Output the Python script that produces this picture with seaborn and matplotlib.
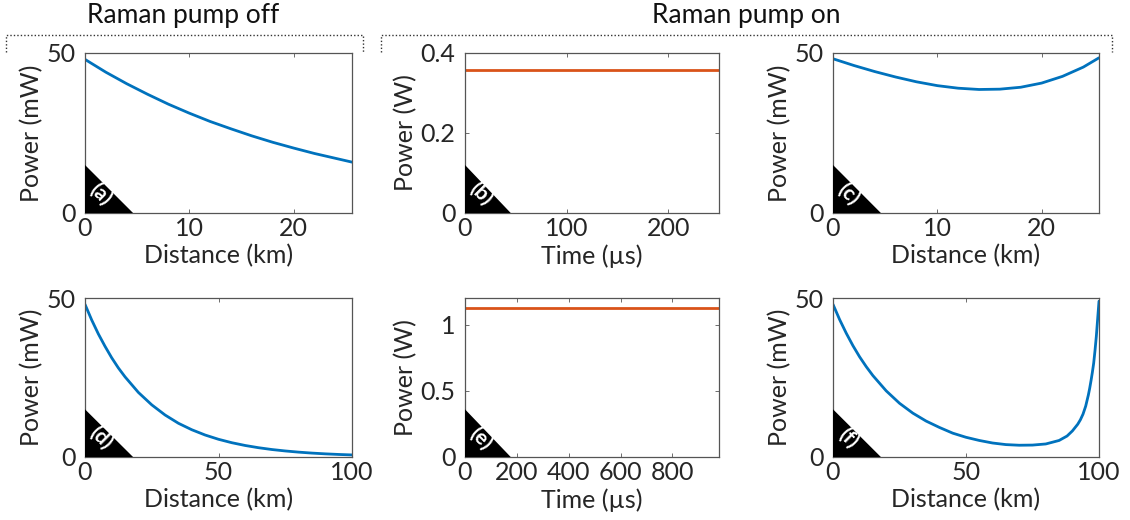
"""Raman pump off / on: signal power along the fibre and pump power in time."""

import matplotlib
matplotlib.use("Agg")
import matplotlib.pyplot as plt
from matplotlib.lines import Line2D
from matplotlib.patches import Polygon
import pandas as pd
import seaborn as sns

# ---------------------------------------------------------------- data
# (a) pump off, 25 km span (mW)
dist_a = [0, 2, 4, 6, 8, 10, 12, 14, 16, 18, 20, 22, 24, 25.6]
pow_a = [48.0, 44.0, 40.4, 37.1, 34.0, 31.2, 28.6, 26.3, 24.1, 22.1, 20.3, 18.6, 17.1, 15.9]

# (b) pump power vs time (W)
time_b = [0, 250]
pump_b = [0.358, 0.358]

# (c) pump on, 25 km span (mW)
dist_c = [0, 2, 4, 6, 8, 10, 12, 14, 16, 18, 20, 22, 24, 25.5]
pow_c = [48.2, 46.1, 44.2, 42.5, 41.0, 39.8, 39.0, 38.6, 38.7, 39.3, 40.6, 42.7, 45.6, 48.5]

# (d) pump off, 100 km span (mW)
dist_d = [0, 2.5, 5, 7.5, 10, 12.5, 15, 20, 25, 30, 35, 40, 45, 50, 55, 60, 65, 70, 75,
          80, 85, 90, 95, 100]
pow_d = [48.0, 43.1, 38.7, 34.8, 31.2, 28.0, 25.2, 20.3, 16.4, 13.2, 10.6, 8.57, 6.91,
         5.57, 4.49, 3.62, 2.92, 2.35, 1.90, 1.53, 1.23, 0.99, 0.80, 0.65]

# (e) pump power vs time (W)
time_e = [0, 980]
pump_e = [1.125, 1.125]

# (f) pump on, 100 km span (mW)
dist_f = [0, 2.5, 5, 7.5, 10, 12.5, 15, 20, 25, 30, 35, 40, 45, 50, 55, 60, 65, 70, 75,
          80, 85, 88, 90, 92, 93, 94, 95, 96, 96.5, 97, 97.5, 98, 98.5, 99, 99.5, 100]
pow_f = [48.0, 43.2, 38.9, 35.0, 31.5, 28.4, 25.6, 20.8, 16.9, 13.8, 11.3, 9.3, 7.5, 6.2,
         5.2, 4.4, 3.9, 3.7, 3.75, 4.1, 5.2, 6.6, 8.2, 10.3, 11.7, 13.5, 16.0, 19.5,
         21.6, 24.0, 26.6, 29.5, 33.5, 38.0, 43.5, 49.0]

BLUE = "#0072BD"
ORANGE = "#D95319"
INK = "#262626"
FS = 18

sns.set_theme(style="ticks")
plt.rcParams["font.family"] = ["Lato", "DejaVu Sans"]
plt.rcParams.update({
    "xtick.direction": "in", "ytick.direction": "in",
    "xtick.top": True, "ytick.right": True,
    "xtick.major.size": 3, "ytick.major.size": 3,
    "xtick.major.width": 0.6, "ytick.major.width": 0.6,
    "axes.edgecolor": "#555555", "axes.linewidth": 0.9,
    "xtick.color": "#555555", "ytick.color": "#555555",
    "xtick.labelcolor": INK, "ytick.labelcolor": INK,
    "font.size": FS,
})

W, H = 1130, 520
fig = plt.figure(figsize=(W / 100, H / 100), dpi=100)


def _axes(left, top, width, height):
    return fig.add_axes([left / W, (H - top - height) / H, width / W, height / H])


panels = [
    # label, x, y, colour, xmax, xticks, ymax, yticks, yticklabels, xlabel, ylabel, pixel box
    ("(a)", dist_a, pow_a, BLUE, 25.6, [0, 10, 20], 50, [0, 50], ["0", "50"],
     "Distance (km)", "Power (mW)", (85, 53, 267, 160)),
    ("(b)", time_b, pump_b, ORANGE, 250, [0, 100, 200], 0.4, [0, 0.2, 0.4], ["0", "0.2", "0.4"],
     "Time (µs)", "Power (W)", (465, 53, 254, 160)),
    ("(c)", dist_c, pow_c, BLUE, 25.5, [0, 10, 20], 50, [0, 50], ["0", "50"],
     "Distance (km)", "Power (mW)", (833, 53, 266, 160)),
    ("(d)", dist_d, pow_d, BLUE, 100, [0, 50, 100], 50, [0, 50], ["0", "50"],
     "Distance (km)", "Power (mW)", (85, 298, 267, 159)),
    ("(e)", time_e, pump_e, ORANGE, 980, [0, 200, 400, 600, 800], 1.2, [0, 0.5, 1], ["0", "0.5", "1"],
     "Time (µs)", "Power (W)", (465, 298, 254, 159)),
    ("(f)", dist_f, pow_f, BLUE, 100, [0, 50, 100], 50, [0, 50], ["0", "50"],
     "Distance (km)", "Power (mW)", (833, 298, 266, 159)),
]

for (lab, xs, ys, col, xmax, xticks, ymax, yticks, yticklabels,
     xlabel, ylabel, pos) in panels:
    ax = _axes(*pos)
    df = pd.DataFrame({"x": xs, "y": ys})
    sns.lineplot(data=df, x="x", y="y", color=col, lw=2.0, ax=ax)
    ax.set_xlim(0, xmax)
    ax.set_ylim(0, ymax)
    ax.set_xticks(xticks)
    ax.set_yticks(yticks)
    ax.set_yticklabels(yticklabels)
    ax.tick_params(axis="x", labelsize=FS, pad=3)
    ax.tick_params(axis="y", labelsize=FS, pad=7)
    ax.set_xlabel(xlabel, fontsize=FS, color=INK, labelpad=3)
    ax.set_ylabel(ylabel, fontsize=FS, color=INK, labelpad=2)
    for s in ax.spines.values():
        s.set_visible(True)
    # black corner triangle with panel tag
    ax.add_patch(Polygon([(0, 0), (0, 0.30), (0.18, 0)], closed=True,
                         transform=ax.transAxes, facecolor="black",
                         edgecolor="none", zorder=5, clip_on=False))
    ax.text(16 / pos[2], 19 / pos[3], lab, transform=ax.transAxes, color="white",
            fontsize=15, fontweight="bold", rotation=-45,
            ha="center", va="center", zorder=6)

# dotted brackets and group titles
def _bracket(x0, x1, y0, y1):
    fig.add_artist(Line2D([x0 / W, x0 / W, x1 / W, x1 / W],
                          [1 - y1 / H, 1 - y0 / H, 1 - y0 / H, 1 - y1 / H],
                          transform=fig.transFigure, color="#333333",
                          lw=1.0, ls=(0, (1, 1.5))))


_bracket(6, 363, 35, 52)
_bracket(381, 1112, 35, 52)
fig.text(183 / W, 1 - 16 / H, "Raman pump off", ha="center", va="center",
         fontsize=FS + 1, color="#111111")
fig.text(746 / W, 1 - 16 / H, "Raman pump on", ha="center", va="center",
         fontsize=FS + 1, color="#111111")

fig.savefig("out.png", dpi=100)
